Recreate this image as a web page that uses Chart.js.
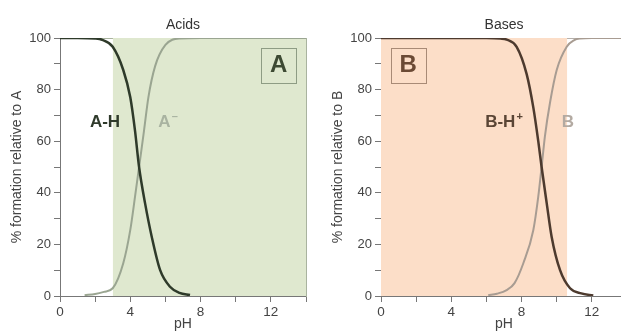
<!DOCTYPE html>
<html>
<head>
<meta charset="utf-8">
<script src="https://cdn.jsdelivr.net/npm/chart.js@4.4.0/dist/chart.umd.min.js"></script>
<style>
  html, body { margin: 0; padding: 0; background: #fff; overflow: hidden; }
  #wrapA { position: absolute; left: 0; top: 0; width: 310px; height: 333px; }
  #wrapB { position: absolute; left: 310px; top: 0; width: 311px; height: 333px; overflow: hidden; }
</style>
</head>
<body>
<div id="wrapA"><canvas id="acidChart" width="310" height="333"></canvas></div>
<div id="wrapB"><canvas id="baseChart" width="321" height="333"></canvas></div>
<script>
// values (pH, % formation)
var phAH  = [0, 1, 2, 2.4, 3.0, 3.6, 4.0, 4.27, 4.5, 4.84, 5.22, 5.7, 6.26, 6.8, 7.4];
var pctAH = [100, 100, 99.8, 99.3, 96.6, 87.6, 77, 64, 50, 36, 23, 10, 3.6, 1.2, 0.4];
var phA   = [1.4, 2.0, 2.5, 3.0, 3.6, 4.0, 4.27, 4.5, 4.78, 5.03, 5.41, 6.0, 6.8, 8, 10, 12, 14];
var pctA  = [0.3, 0.8, 1.6, 3, 12.7, 25.6, 38.5, 50, 64, 77, 89, 97.3, 99.8, 100, 100, 100, 100];

var phBH  = [0, 2, 4, 6, 6.8, 7.15, 7.72, 8.29, 8.67, 8.95, 9.14, 9.43, 9.71, 10.19, 10.76, 11.4, 12.08];
var pctBH = [100, 100, 100, 100, 99.8, 99.4, 96.6, 86, 73, 60, 50, 36, 23, 10, 3, 1, 0.2];
var phB   = [6.1, 6.6, 7.15, 7.6, 8.1, 8.67, 8.95, 9.14, 9.33, 9.62, 10.0, 10.57, 11.0, 11.33, 12, 13, 14];
var pctB  = [0.3, 0.9, 2.3, 5, 12.7, 25.6, 38.5, 50, 62, 75, 87.6, 96.6, 99.2, 99.8, 100, 100, 100];

// shaded pH ranges
var acidRange = [3, 14];
var baseRange = [0, 10.6];

var xTicks = [0, 4, 8, 12];
var yTicks = [0, 20, 40, 60, 80, 100];

function pts(xs, ys) {
    var out = [];
    for (var i = 0; i < xs.length; i++) out.push({x: xs[i], y: ys[i]});
    return out;
}
function box(r) {
    return [{x: r[0], y: 0}, {x: r[0], y: 100}, {x: r[1], y: 100}, {x: r[1], y: 0}];
}

var labelPlugin = {
    id: 'curveLabels',
    afterDatasetsDraw: function (chart, args, opts) {
        var ctx = chart.ctx, sx = chart.scales.x, sy = chart.scales.y;
        ctx.save();
        (opts.items || []).forEach(function (it) {
            var px = sx.getPixelForValue(it.x), py = sy.getPixelForValue(it.y);
            if (it.box) {
                var x0 = sx.getPixelForValue(it.box[0]), x1 = sx.getPixelForValue(it.box[1]);
                var y0 = sy.getPixelForValue(it.box[2]), y1 = sy.getPixelForValue(it.box[3]);
                ctx.strokeStyle = it.boxColor;
                ctx.lineWidth = 1;
                ctx.strokeRect(Math.round(x0) + 0.5, Math.round(y1) + 0.5, Math.round(x1 - x0), Math.round(y0 - y1));
            }
            ctx.font = 'bold ' + it.size + 'px "Liberation Sans", Arial, sans-serif';
            ctx.fillStyle = it.color;
            ctx.textBaseline = 'middle';
            var w = ctx.measureText(it.text).width;
            var sw = 0;
            if (it.sup) {
                ctx.font = 'bold ' + Math.round(it.size * 0.65) + 'px "Liberation Sans", Arial, sans-serif';
                sw = ctx.measureText(it.sup).width + 1;
            }
            var left = px - (w + sw) / 2;
            ctx.font = 'bold ' + it.size + 'px "Liberation Sans", Arial, sans-serif';
            ctx.textAlign = 'left';
            ctx.fillText(it.text, left, py);
            if (it.sup) {
                ctx.font = 'bold ' + Math.round(it.size * 0.65) + 'px "Liberation Sans", Arial, sans-serif';
                ctx.fillText(it.sup, left + w + 1, py - it.size * 0.3);
            }
        });
        ctx.restore();
    }
};

function makeChart(id, cfg) {
    var font = '"Liberation Sans", Arial, sans-serif';
    return new Chart(document.getElementById(id), {
        type: 'scatter',
        plugins: [labelPlugin],
        data: {
            datasets: [{
                data: box(cfg.range),
                showLine: true,
                fill: 'origin',
                backgroundColor: cfg.fill,
                borderWidth: 0,
                pointRadius: 0,
                tension: 0,
                order: 10
            }, {
                data: pts(cfg.x1, cfg.y1),
                showLine: true,
                borderColor: cfg.c1,
                borderWidth: 2.5,
                pointRadius: 0,
                cubicInterpolationMode: 'monotone',
                order: 1
            }, {
                data: pts(cfg.x2, cfg.y2),
                showLine: true,
                borderColor: cfg.c2,
                borderWidth: 2,
                pointRadius: 0,
                cubicInterpolationMode: 'monotone',
                order: 2
            }]
        },
        options: {
            responsive: false,
            animation: false,
            layout: {padding: {left: 0, right: 4, top: 0, bottom: 0}},
            plugins: {
                legend: {display: false},
                tooltip: {enabled: false},
                curveLabels: {items: cfg.labels}
            },
            scales: {
                x: {
                    type: 'linear', min: 0, max: 14,
                    ticks: {
                        stepSize: 2, color: '#444', font: {family: font, size: 13.5}, padding: 2,
                        callback: function (v) { return xTicks.indexOf(v) >= 0 ? v : ''; }
                    },
                    grid: {drawOnChartArea: false, tickLength: 6, color: '#777'},
                    border: {color: '#777'},
                    title: {display: true, text: 'pH', color: '#444', font: {family: font, size: 14}, padding: {top: 0, bottom: 0}},
                    afterFit: function (s) { s.height = 37; }
                },
                xTop: {
                    type: 'linear', position: 'top', min: 0, max: 14,
                    ticks: {display: false},
                    grid: {display: false},
                    border: {color: cfg.frame},
                    title: {display: true, text: cfg.title, color: '#333', font: {family: font, size: 14}, padding: {top: 17, bottom: 0}},
                    afterFit: function (s) { s.height = 38; }
                },
                y: {
                    min: 0, max: 100,
                    ticks: {
                        stepSize: 10, color: '#444', font: {family: font, size: 13}, padding: 3,
                        callback: function (v) { return yTicks.indexOf(v) >= 0 ? v : ''; }
                    },
                    grid: {drawOnChartArea: false, tickLength: 6, color: '#777'},
                    border: {color: '#777'},
                    title: {display: true, text: cfg.ytitle, color: '#444', font: {family: font, size: 14}, padding: {top: cfg.ytitlePad, bottom: 0}},
                    afterFit: function (s) { s.width = cfg.yWidth; }
                },
                yRight: {
                    position: 'right', min: 0, max: 100,
                    ticks: {display: false},
                    grid: {display: false},
                    border: {color: cfg.frame},
                    afterFit: function (s) { s.width = 0; }
                }
            }
        }
    });
}

makeChart('acidChart', {
    title: 'Acids',
    ytitle: '% formation relative to A',
    ytitlePad: 9,
    yWidth: 60,
    range: acidRange,
    fill: '#dfe8cf',
    frame: '#a9b39f',
    x1: phAH, y1: pctAH, c1: '#2e3a2a',
    x2: phA, y2: pctA, c2: '#9aa591',
    labels: [
        {text: 'A-H', x: 2.56, y: 67.4, size: 17, color: '#2f3a2b'},
        {text: 'A', sup: '\u2013', x: 6.15, y: 67.4, size: 17, color: '#a9b3a1'},
        {text: 'A', x: 12.44, y: 89.3, size: 24, color: '#3d4a33', box: [11.44, 13.43, 82.6, 96.1], boxColor: '#8e9c84'}
    ]
});

makeChart('baseChart', {
    title: 'Bases',
    ytitle: '% formation relative to B',
    ytitlePad: 19.5,
    yWidth: 71,
    range: baseRange,
    fill: '#fcdec8',
    frame: '#b5b0ab',
    x1: phBH, y1: pctBH, c1: '#4d3a2e',
    x2: phB, y2: pctB, c2: '#a89c92',
    labels: [
        {text: 'B-H', sup: '+', x: 7.0, y: 67.4, size: 17, color: '#5a4535'},
        {text: 'B', x: 10.64, y: 67.4, size: 17, color: '#b3aaa2'},
        {text: 'B', x: 1.54, y: 89.3, size: 24, color: '#6b4a35', box: [0.55, 2.56, 82.6, 96.1], boxColor: '#a88a76'}
    ]
});
</script>
</body>
</html>
